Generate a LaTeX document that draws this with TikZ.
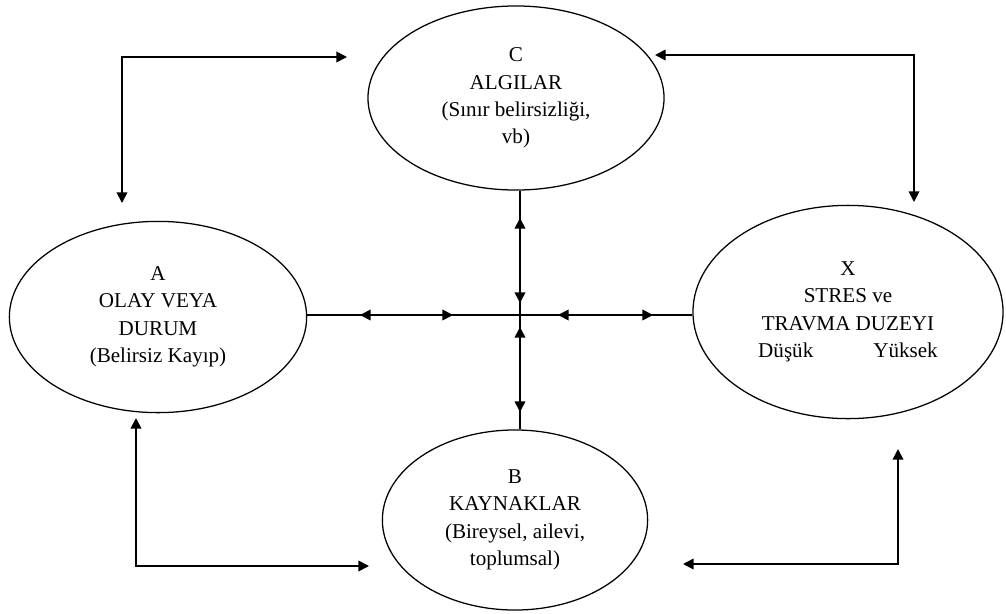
\documentclass[tikz,border=0pt]{standalone}
\usepackage{fontspec}
\setmainfont{Liberation Serif}
\usetikzlibrary{shapes.geometric,arrows.meta}

\tikzset{
    stage/.style={draw, ellipse, line width=0.9pt, align=center, inner sep=0pt,
        font=\fontsize{15}{19.5}\selectfont},
    link/.style={line width=1.2pt},
    twoway/.style={link, {Triangle[length=7.5pt,width=7.5pt]}-{Triangle[length=7.5pt,width=7.5pt]}},
}

\begin{document}
\begin{tikzpicture}[x=0.025cm, y=-0.025cm]
    \useasboundingbox (0,0) rectangle (1006,613);

    % Draw ellipses
    \node [stage, minimum width=7.4cm, minimum height=4.6cm] (c) at (516,98)
        {C\\ALGILAR\\(Sınır belirsizliği,\\vb)};
    \node [stage, minimum width=7.43cm, minimum height=4.78cm] (a) at (158,317)
        {A\\OLAY VEYA\\DURUM\\(Belirsiz Kayıp)};
    \node [stage, minimum width=7.75cm, minimum height=5.33cm] (x) at (848,312)
        {X\\STRES ve\\TRAVMA DUZEYI\\Düşük\hspace{1.5cm}Yüksek};
    \node [stage, minimum width=6.63cm, minimum height=4.5cm] (b) at (515,520)
        {B\\KAYNAKLAR\\(Bireysel, ailevi,\\toplumsal)};

    % Draw cross
    \coordinate (mid) at (520,315);
    \draw [link] (a.east |- mid) -- (x.west |- mid);
    \draw [link] (c.south -| mid) -- (b.north -| mid);
    \coordinate (la1) at (360,315);
    \coordinate (la2) at (453,315);
    \coordinate (ra1) at (558,315);
    \coordinate (ra2) at (653,315);
    \coordinate (ua1) at (520,218);
    \coordinate (ua2) at (520,303);
    \coordinate (da1) at (520,327);
    \coordinate (da2) at (520,412);
    \draw [twoway] (la1) -- (la2);
    \draw [twoway] (ra1) -- (ra2);
    \draw [twoway] (ua1) -- (ua2);
    \draw [twoway] (da1) -- (da2);

    % Draw corner arrows
    \coordinate (tlh) at (347,57);
    \coordinate (tlc) at (122,57);
    \coordinate (tlv) at (122,203);
    \coordinate (trh) at (655,55);
    \coordinate (trc) at (914,55);
    \coordinate (trv) at (914,202);
    \coordinate (blv) at (136,418);
    \coordinate (blc) at (136,566);
    \coordinate (blh) at (369,566);
    \coordinate (brv) at (898,449);
    \coordinate (brc) at (898,564);
    \coordinate (brh) at (683,564);
    \draw [twoway] (tlh) -- (tlc) -- (tlv);
    \draw [twoway] (trh) -- (trc) -- (trv);
    \draw [twoway] (blv) -- (blc) -- (blh);
    \draw [twoway] (brv) -- (brc) -- (brh);
\end{tikzpicture}
\end{document}
